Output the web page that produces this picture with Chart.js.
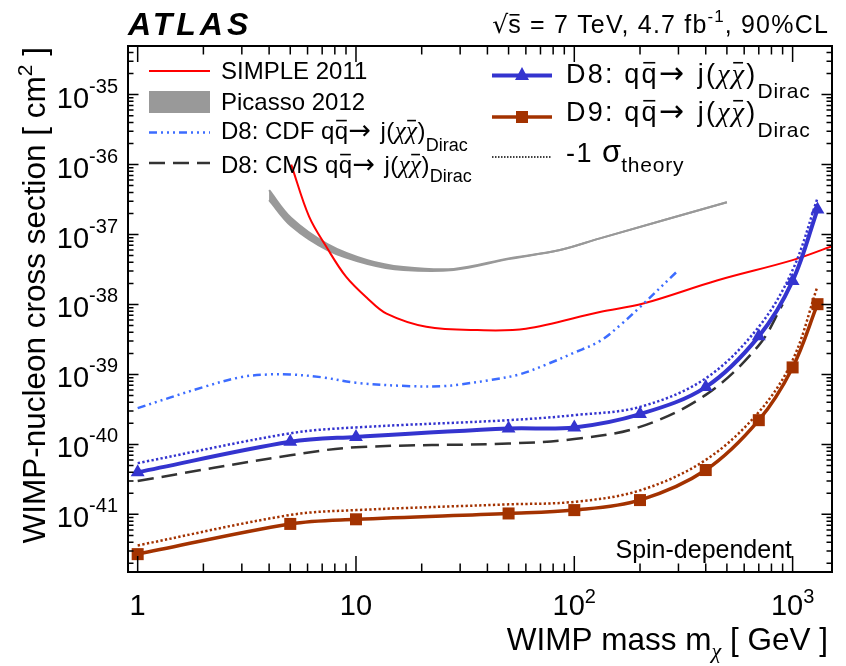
<!DOCTYPE html>
<html>
<head>
<meta charset="utf-8">
<script src="https://cdn.jsdelivr.net/npm/chart.js@4/dist/chart.umd.min.js"></script>
<style>
  body { margin: 0; background: #fff; }
  canvas { display: block; }
</style>
</head>
<body>
<canvas id="limitChart" width="846" height="666"></canvas>
<script>
// WIMP masses (GeV) where the ATLAS limits are given
const massPoints = [1, 5, 10, 50, 100, 200, 400, 700, 1000, 1300];
const d8Limit = [4.0e-41, 1.09e-40, 1.28e-40, 1.69e-40, 1.75e-40, 2.71e-40, 6.6e-40, 3.5e-39, 2.17e-38, 2.28e-37];
const d8Theory = [5.4e-41, 1.44e-40, 1.75e-40, 2.22e-40, 2.62e-40, 3.44e-40, 8.8e-40, 4.8e-39, 3.1e-38, 3.3e-37];
const d9Limit = [2.7e-42, 7.3e-42, 8.5e-42, 1.03e-41, 1.15e-41, 1.6e-41, 4.3e-41, 2.22e-40, 1.26e-39, 1.01e-38];
const d9Theory = [3.6e-42, 9.8e-42, 1.15e-41, 1.39e-41, 1.51e-41, 2.2e-41, 6.0e-41, 2.9e-40, 1.6e-39, 1.82e-38];

// CMS D8 limit
const cmsMass = [1, 5, 10, 50, 100, 200, 400, 700, 900];
const cmsLimit = [3.0e-41, 7.0e-41, 9.1e-41, 1.03e-40, 1.19e-40, 1.78e-40, 5.1e-40, 2.6e-39, 1.0e-38];

// CDF D8 limit
const cdfMass = [1, 2, 3, 4, 5, 7, 10, 17.7, 25, 30, 42, 56, 75, 100, 131, 165, 200, 300];
const cdfLimit = [3.3e-40, 6.6e-40, 9.2e-40, 1.0e-39, 1.0e-39, 9.1e-40, 7.6e-40, 6.8e-40, 6.8e-40, 7.2e-40, 8.4e-40, 1.0e-39, 1.4e-39, 2.05e-39, 3.0e-39, 5.3e-39, 9.2e-39, 3.1e-38];

// SIMPLE 2011
const simpleMass = [5.05, 6.1, 7.4, 9.0, 11.3, 13.8, 21, 36, 60, 131, 207, 450, 1000, 1515];
const simpleLimit = [1.0e-36, 1.8e-37, 6.3e-38, 2.5e-38, 1.22e-38, 7.4e-39, 4.8e-39, 4.3e-39, 4.5e-39, 7.8e-39, 1.03e-38, 2.2e-38, 4.3e-38, 6.8e-38];

// Picasso 2012 band
const picassoMass = [4.0, 5.05, 7.4, 11.3, 16.5, 28, 50, 86, 131, 500];
const picassoUpper = [4.3e-37, 1.72e-37, 7.3e-38, 4.3e-38, 3.43e-38, 3.22e-38, 4.55e-38, 6.0e-38, 8.8e-38, 2.9e-37];
const picassoLower = [3.1e-37, 1.32e-37, 6.0e-38, 3.8e-38, 3.12e-38, 3.12e-38, 4.45e-38, 6.0e-38, 8.8e-38, 2.9e-37];

// axis ranges and labelled ticks
const xRange = [0.903, 1515];
const yRange = [1.5e-42, 4.95e-35];
const xTickLabels = [[1, '1', ''], [10, '10', ''], [100, '10', '2'], [1000, '10', '3']];
const yTickExponents = [-35, -36, -37, -38, -39, -40, -41];

const BLUE = '#3434cf';
const BROWN = '#a33200';
const CDF_BLUE = '#3c6cff';
const SANS = '"Liberation Sans", Arial, sans-serif';
const SERIF = '"Liberation Serif", serif';

function pts(xs, ys) {
    return xs.map((x, i) => ({ x: x, y: ys[i] }));
}

// draw text made of pieces (super/subscripts, overlines, letter spacing)
function partWidth(ctx, p) {
    ctx.font = p.f;
    ctx.letterSpacing = (p.ls || 0) + 'px';
    return ctx.measureText(p.t).width + (p.gap || 0);
}
function drawRich(ctx, parts, x, y, align) {
    let w = 0;
    parts.forEach(p => { w += partWidth(ctx, p); });
    let cx = align === 'right' ? x - w : (align === 'center' ? x - w / 2 : x);
    ctx.textAlign = 'left';
    ctx.textBaseline = 'alphabetic';
    parts.forEach(p => {
        const tw = partWidth(ctx, p);
        const by = y + (p.dy || 0);
        ctx.fillText(p.t, cx, by);
        if (p.bar) {
            ctx.fillRect(cx + tw * 0.1, by - p.bar, (tw - (p.ls || 0)) * 0.8, 1.6);
        }
        cx += tw;
    });
    ctx.letterSpacing = '0px';
}

function reaction(size, ls) {
    const f = size + 'px ' + SANS;
    const g = 'italic ' + (size + 1) + 'px ' + SERIF;
    const a = (size + 3) + 'px "DejaVu Sans", sans-serif';
    return [
        { t: 'q', f: f, ls: ls },
        { t: 'q', f: f, ls: ls, bar: size * 0.78 },
        { t: '\u2192 ', f: a, ls: ls },
        { t: 'j(', f: f, ls: ls },
        { t: '\u03c7', f: g, ls: ls },
        { t: '\u03c7', f: g, ls: ls, bar: size * 0.78 },
        { t: ')', f: f, ls: ls }
    ];
}

function lineSample(ctx, x1, x2, y, color, width, dash) {
    ctx.save();
    ctx.strokeStyle = color;
    ctx.lineWidth = width;
    ctx.setLineDash(dash || []);
    ctx.beginPath();
    ctx.moveTo(x1, y);
    ctx.lineTo(x2, y);
    ctx.stroke();
    ctx.restore();
}

const atlasFrame = {
    id: 'atlasFrame',
    afterDraw(chart) {
        const ctx = chart.ctx;
        const area = chart.chartArea;
        const xs = chart.scales.x;
        const ys = chart.scales.y;
        ctx.save();
        ctx.fillStyle = '#000';
        ctx.strokeStyle = '#000';

        // frame
        ctx.lineWidth = 2;
        ctx.strokeRect(area.left, area.top, area.right - area.left, area.bottom - area.top);

        // ticks on all four sides, pointing inwards
        ctx.lineWidth = 1.5;
        ctx.beginPath();
        for (let d = -1; d <= 3; d++) {
            for (let k = 1; k <= 9; k++) {
                const v = Number((k * Math.pow(10, d)).toPrecision(12));
                if (v < xRange[0] || v > xRange[1]) continue;
                const px = xs.getPixelForValue(v);
                const len = k === 1 ? 16 : 8.5;
                ctx.moveTo(px, area.bottom); ctx.lineTo(px, area.bottom - len);
                ctx.moveTo(px, area.top); ctx.lineTo(px, area.top + len);
            }
        }
        for (let d = -43; d <= -35; d++) {
            for (let k = 1; k <= 9; k++) {
                const v = k * Math.pow(10, d);
                if (v < yRange[0] || v > yRange[1]) continue;
                const py = ys.getPixelForValue(v);
                const len = k === 1 ? 10.5 : 5.5;
                ctx.moveTo(area.left, py); ctx.lineTo(area.left + len, py);
                ctx.moveTo(area.right, py); ctx.lineTo(area.right - len, py);
            }
        }
        ctx.stroke();

        // tick labels
        const big = '29px ' + SANS;
        const sup = '20px ' + SANS;
        yTickExponents.forEach(e => {
            const py = ys.getPixelForValue(Math.pow(10, e));
            drawRich(ctx, [{ t: '10', f: big }, { t: String(e), f: sup, dy: -15 }], 118, py + 13, 'right');
        });
        xTickLabels.forEach(l => {
            const px = xs.getPixelForValue(l[0]);
            const parts = [{ t: l[1], f: big }];
            if (l[2]) parts.push({ t: l[2], f: sup, dy: -12 });
            drawRich(ctx, parts, px, 615, 'center');
        });

        // axis titles
        const title = '31.5px ' + SANS;
        drawRich(ctx, [
            { t: 'WIMP mass m', f: title },
            { t: '\u03c7', f: 'italic 22px ' + SERIF, dy: 8 },
            { t: ' [ GeV ]', f: title }
        ], 828, 650, 'right');
        ctx.save();
        ctx.translate(45, 47);
        ctx.rotate(-Math.PI / 2);
        drawRich(ctx, [
            { t: 'WIMP-nucleon cross section [ cm', f: title },
            { t: '2', f: '21px ' + SANS, dy: -13 },
            { t: ' ]', f: title }
        ], 0, 0, 'right');
        ctx.restore();

        // ATLAS label and run conditions
        drawRich(ctx, [{ t: 'ATLAS', f: 'italic bold 32px ' + SANS, ls: 4 }], 128, 35, 'left');
        const e25 = '25px ' + SANS;
        drawRich(ctx, [
            { t: '\u221a', f: '25px "DejaVu Sans", sans-serif' },
            { t: 's', f: e25, bar: 19, ls: 1.2 },
            { t: ' = 7 TeV, 4.7 fb', f: e25, ls: 1.2 },
            { t: '-1', f: '17px ' + SANS, dy: -11, ls: 1 },
            { t: ', 90%CL', f: e25, ls: 1.2 }
        ], 829, 33, 'right');

        drawRich(ctx, [{ t: 'Spin-dependent', f: '25px ' + SANS }], 792, 558, 'right');

        // left legend
        const l24 = '24px ' + SANS;
        const sub18 = '18px ' + SANS;
        lineSample(ctx, 149, 210, 71, '#ff0000', 2);
        drawRich(ctx, [{ t: 'SIMPLE 2011', f: l24 }], 221, 79, 'left');
        ctx.fillStyle = '#999';
        ctx.fillRect(149, 91, 61, 22);
        ctx.fillStyle = '#000';
        drawRich(ctx, [{ t: 'Picasso 2012', f: l24 }], 221, 110, 'left');
        lineSample(ctx, 149, 210, 132.5, CDF_BLUE, 2.5, [8, 4, 2, 4, 2, 4, 2, 4]);
        drawRich(ctx, [{ t: 'D8: CDF ', f: l24 }].concat(reaction(24, 0.4), [{ t: 'Dirac', f: sub18, dy: 12 }]), 221, 138.5, 'left');
        lineSample(ctx, 149, 210, 163, '#333', 2.5, [16, 8]);
        drawRich(ctx, [{ t: 'D8: CMS ', f: l24 }].concat(reaction(24, 0.4), [{ t: 'Dirac', f: sub18, dy: 9 }]), 221, 172.5, 'left');

        // right legend
        const l27 = '27px ' + SANS;
        const sub22 = '21px ' + SANS;
        lineSample(ctx, 492, 552, 75.5, BLUE, 4);
        ctx.fillStyle = BLUE;
        ctx.beginPath();
        ctx.moveTo(522, 67); ctx.lineTo(529, 80); ctx.lineTo(515, 80); ctx.closePath();
        ctx.fill();
        ctx.fillStyle = '#000';
        drawRich(ctx, [{ t: 'D8: ', f: l27, ls: 2.2 }].concat(reaction(27, 2.2), [{ t: 'Dirac', f: sub22, dy: 15, ls: 0.8 }]), 566, 83, 'left');
        lineSample(ctx, 492, 552, 117, BROWN, 3.5);
        ctx.fillStyle = BROWN;
        ctx.fillRect(516, 111, 12, 12);
        ctx.fillStyle = '#000';
        drawRich(ctx, [{ t: 'D9: ', f: l27, ls: 2.2 }].concat(reaction(27, 2.2), [{ t: 'Dirac', f: sub22, dy: 16, ls: 0.8 }]), 566, 121, 'left');
        lineSample(ctx, 492, 552, 157, '#000', 1.5, [1.5, 1.5]);
        drawRich(ctx, [
            { t: '-1 ', f: l27, ls: 1.5 },
            { t: '\u03c3', f: '31px ' + SANS },
            { t: 'theory', f: sub22, dy: 10, ls: 0.8 }
        ], 566, 162, 'left');

        ctx.restore();
    }
};

const curve = { pointRadius: 0, tension: 0.35 };

const datasets = [
    Object.assign({}, curve, {
        label: 'D8', data: pts(massPoints, d8Limit),
        borderColor: BLUE, backgroundColor: BLUE, borderWidth: 4,
        pointStyle: 'triangle', pointRadius: 8, pointBackgroundColor: BLUE, pointBorderWidth: 0
    }),
    Object.assign({}, curve, {
        label: 'D9', data: pts(massPoints, d9Limit),
        borderColor: BROWN, backgroundColor: BROWN, borderWidth: 3.5,
        pointStyle: 'rect', pointRadius: 8.5, pointBackgroundColor: BROWN, pointBorderWidth: 0
    }),
    Object.assign({}, curve, {
        label: 'D8 -1 sigma', data: pts(massPoints, d8Theory),
        borderColor: BLUE, borderWidth: 2.5, borderDash: [2.3, 2.3]
    }),
    Object.assign({}, curve, {
        label: 'D9 -1 sigma', data: pts(massPoints, d9Theory),
        borderColor: BROWN, borderWidth: 2.5, borderDash: [2.3, 2.3]
    }),
    Object.assign({}, curve, {
        label: 'CMS', data: pts(cmsMass, cmsLimit),
        borderColor: '#333', borderWidth: 2.5, borderDash: [16, 8]
    }),
    Object.assign({}, curve, {
        label: 'CDF', data: pts(cdfMass, cdfLimit),
        borderColor: CDF_BLUE, borderWidth: 2.5, borderDash: [8, 4, 2, 4, 2, 4, 2, 4]
    }),
    Object.assign({}, curve, {
        label: 'SIMPLE 2011', data: pts(simpleMass, simpleLimit),
        borderColor: '#ff0000', borderWidth: 2
    }),
    Object.assign({}, curve, {
        label: 'Picasso 2012', data: pts(picassoMass, picassoUpper),
        borderColor: '#999', backgroundColor: '#999', borderWidth: 2, fill: '+1'
    }),
    Object.assign({}, curve, {
        label: 'Picasso low', data: pts(picassoMass, picassoLower),
        borderColor: '#999', borderWidth: 2
    })
];

new Chart(document.getElementById('limitChart'), {
    type: 'line',
    data: { datasets: datasets },
    options: {
        responsive: false,
        animation: false,
        layout: { padding: { left: 128, right: 14, top: 46, bottom: 94 } },
        scales: {
            x: { type: 'logarithmic', min: xRange[0], max: xRange[1], display: false },
            y: { type: 'logarithmic', min: yRange[0], max: yRange[1], display: false }
        },
        plugins: {
            legend: { display: false },
            tooltip: { enabled: false }
        }
    },
    plugins: [atlasFrame]
});
</script>
</body>
</html>
